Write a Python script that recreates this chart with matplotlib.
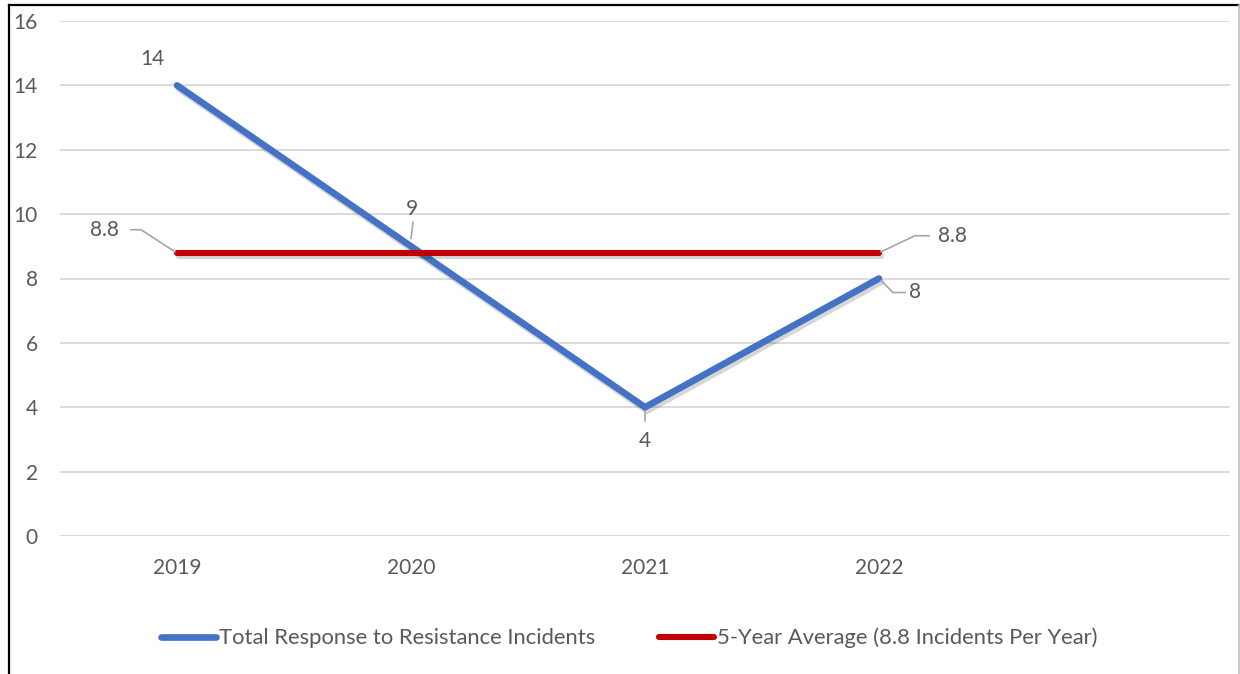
import numpy as np
import matplotlib
matplotlib.use("Agg")
import matplotlib.pyplot as plt
import matplotlib.patheffects as pe
from matplotlib.lines import Line2D

plt.rcParams['font.family'] = ['Lato', 'DejaVu Sans']

years = ["2019", "2020", "2021", "2022", ""]
incidents = [14, 9, 4, 8]
avg_value = 8.8
average = [avg_value] * 4

blue = "#4472C4"
red = "#C00000"
text_gray = "#595959"
grid_gray = "#D9D9D9"
leader_gray = "#A6A6A6"
fs = 15

fig = plt.figure(figsize=(12.4, 6.74), dpi=100)
W, H = 1240, 674
ax = fig.add_axes([60 / W, 138 / H, 1170 / W, 515 / H])

x = np.arange(len(incidents))
shadow = [pe.SimpleLineShadow(offset=(1.5, -2.5), alpha=0.16, shadow_color="black"), pe.Normal()]

ax.plot(x, incidents, color=blue, lw=4.8, solid_capstyle="round", solid_joinstyle="miter",
        label="Total Response to Resistance Incidents", path_effects=shadow, zorder=3)
ax.plot(x, average, color=red, lw=4.4, solid_capstyle="round",
        label="5-Year Average (8.8 Incidents Per Year)", path_effects=shadow, zorder=4)

ax.set_xlim(-0.5, len(years) - 0.5)
ax.set_ylim(0, 16)
ax.set_yticks(np.arange(0, 17, 2))
ax.set_xticks(np.arange(len(years)))
ax.set_xticklabels(years)
ax.tick_params(length=0, labelsize=fs, colors=text_gray)
ax.tick_params(axis="y", pad=16)
ax.tick_params(axis="x", pad=16)
ax.grid(axis="y", color=grid_gray, lw=1.3)
ax.set_axisbelow(True)
for s in ax.spines.values():
    s.set_visible(False)
ax.axhline(0, color=grid_gray, lw=1.8, zorder=1)


def leader(xd, yd, offsets, label, text_off, ha="center", va="center"):
    # leader line drawn in pixel offsets from the data point, then the value label
    px, py = ax.transData.transform((xd, yd))
    pts = [(px + dx, py + dy) for dx, dy in offsets]
    xs, ys = zip(*pts)
    fig.add_artist(Line2D(np.array(xs) / W, np.array(ys) / H, transform=fig.transFigure,
                          color=leader_gray, lw=1.2, zorder=5))
    ax.annotate(label, (xd, yd), xytext=text_off, textcoords="offset pixels",
                ha=ha, va=va, fontsize=fs, color=text_gray)


# value labels for the incident series
ax.annotate(f"{incidents[0]}", (x[0], incidents[0]), xytext=(-25, 26), textcoords="offset pixels",
            ha="center", va="center", fontsize=fs, color=text_gray)
leader(x[1], incidents[1], [(0, 8), (2, 24)], f"{incidents[1]}", (1, 37))
leader(x[2], incidents[2], [(0, -4), (0, -14)], f"{incidents[2]}", (0, -34))
leader(x[3], incidents[3], [(2, -2), (14, -14), (26, -14)], f"{incidents[3]}", (36, -14))

# value labels for the average line
leader(x[0], average[0], [(-2, 1), (-36, 23), (-46, 23)], f"{average[0]}", (-73, 23))
leader(x[3], average[3], [(2, 1), (36, 17), (50, 17)], f"{average[3]}", (73, 17))

leg = fig.legend(loc="center", bbox_to_anchor=(629 / W, 1 - 638 / H), ncol=2, frameon=False,
                 fontsize=15.8, handlelength=2.5, handletextpad=0.15, columnspacing=2.9,
                 labelcolor=text_gray)
for h in leg.legend_handles:
    h.set_path_effects([])
    h.set_solid_capstyle("round")

# outer border
fig.add_artist(Line2D([9 / W, 9 / W], [0, 1 - 5 / H], transform=fig.transFigure, color="black", lw=1.6))
fig.add_artist(Line2D([9 / W, 1239 / W], [1 - 5 / H, 1 - 5 / H], transform=fig.transFigure, color="black", lw=1.6))
fig.add_artist(Line2D([1239 / W, 1239 / W], [0, 1 - 5 / H], transform=fig.transFigure, color="#BFBFBF", lw=1.2))

fig.savefig("out.png", dpi=100)
